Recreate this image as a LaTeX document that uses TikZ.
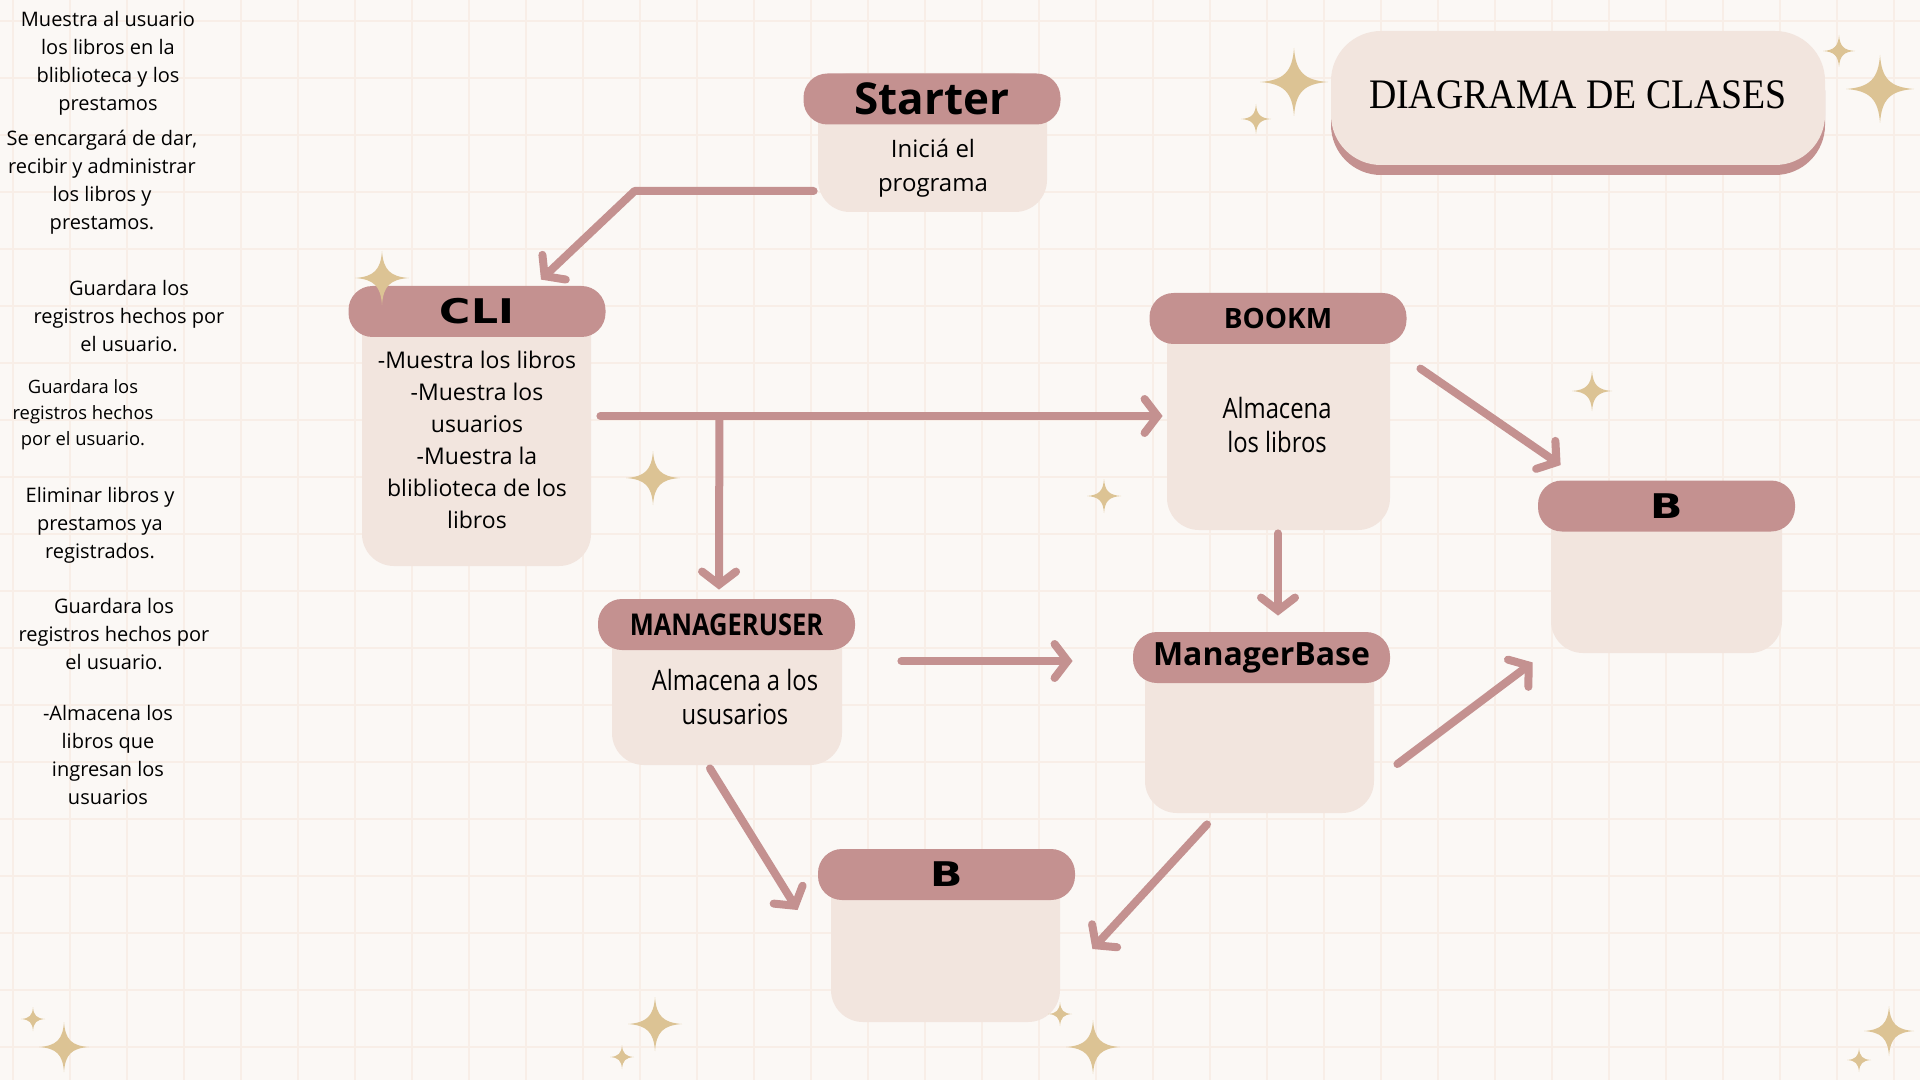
\documentclass[tikz,border=0pt]{standalone}
\usepackage{fontspec}
\setmainfont{Open Sans}
\newfontfamily\condfont{Open Sans}[FakeStretch=0.85]
\newfontfamily\widefont{DejaVu Sans}[FakeStretch=1.25]
\newfontfamily\titlefont{Liberation Serif}[FakeStretch=0.9]
\usetikzlibrary{arrows.meta,shadows}
\definecolor{rosa}{HTML}{C49190}
\definecolor{crema}{HTML}{F2E5DE}
\definecolor{papel}{HTML}{FBF8F5}
\definecolor{cuadro}{HTML}{F8EEE7}
\definecolor{oro}{HTML}{DCC394}
\tikzset{
  cabeza/.style={fill=rosa, rounded corners=12pt, minimum width=128.5pt, minimum height=25.5pt, inner sep=0pt},
  cuerpo/.style={fill=crema, rounded corners=16pt, inner sep=0pt},
  texto/.style={align=center, inner sep=0pt},
  nota/.style={align=center, inner sep=0pt, font=\fontsize{10}{14}\selectfont},
  flecha/.style={draw=rosa, line width=4pt, line cap=round, line join=round,
    -{Straight Barb[length=6.5pt, width=17pt, line cap=round]}},
  destello/.pic={\fill[oro] (0,-1) .. controls (0.05,-0.3) and (0.3,-0.05) .. (1,0)
    .. controls (0.3,0.05) and (0.05,0.3) .. (0,1)
    .. controls (-0.05,0.3) and (-0.3,0.05) .. (-1,0)
    .. controls (-0.3,-0.05) and (-0.05,-0.3) .. cycle;}
}
\begin{document}
\begin{tikzpicture}[x=0.5pt, y=-0.5pt]
% fondo cuadriculado
\fill[papel] (0,0) rectangle (1920,1080);
\useasboundingbox (0,0) rectangle (1920,1080);
\foreach \i in {0,...,33}
  \draw[cuadro, line width=1.2pt] (13+57*\i,0) -- (13+57*\i,1080);
\foreach \j in {0,...,18}
  \draw[cuadro, line width=1.2pt] (0,21+57*\j) -- (1920,21+57*\j);

% titulo
\node[fill=crema, rounded corners=25pt, minimum width=247pt, minimum height=67pt,
  general shadow={fill=rosa, shadow yshift=-5pt}, font=\titlefont\fontsize{21}{24}\selectfont]
  (titulo) at (1578,98) {\raisebox{3pt}{DIAGRAMA DE CLASES}};

% notas de la izquierda
\node[nota] (nota1) at (108,63) {Muestra al usuario\\los libros en la\\bliblioteca y los\\prestamos};
\node[nota] (nota2) at (102,182) {Se encargará de dar,\\recibir y administrar\\los libros y\\prestamos.};
\node[nota] (nota3) at (129,316) {Guardara los\\registros hechos por\\el usuario.};
\node[nota, font=\fontsize{9.2}{13}\selectfont] (nota4) at (83,415) {Guardara los\\registros hechos\\por el usuario.};
\node[nota] (nota5) at (100,525) {Eliminar libros y\\prestamos ya\\registrados.};
\node[nota] (nota6) at (114,634) {Guardara los\\registros hechos por\\el usuario.};
\node[nota] (nota7) at (108,755) {-Almacena los\\libros que\\ingresan los\\usuarios};

% clases
\node[cuerpo, minimum width=114.5pt, minimum height=69.5pt] (starter) at (932.5,142.5) {};
\node[cabeza, font=\bfseries\fontsize{22}{26}\selectfont] (starter-h) at (932,99) {Starter};
\node[texto, font=\fontsize{12}{17}\selectfont] (starter-t) at (933,168) {Iniciá el\\programa};

\node[cuerpo, minimum width=114.5pt, minimum height=139pt] (cli) at (476.5,427) {};
\node[cabeza, font=\widefont\bfseries\fontsize{17}{20}\selectfont] (cli-h) at (477,311.5) {CLI};
\node[texto, font=\fontsize{11.5}{16}\selectfont] (cli-t) at (477,440)
  {-Muestra los libros\\-Muestra los\\usuarios\\-Muestra la\\bliblioteca de los\\libros};

\node[cuerpo, minimum width=111.5pt, minimum height=118.5pt] (bookm) at (1278.5,411.5) {};
\node[cabeza, font=\bfseries\fontsize{14}{17}\selectfont] (bookm-h) at (1278,318.5) {BOOKM};
\node[texto, font=\condfont\fontsize{14}{17}\selectfont] (bookm-t) at (1277,425) {Almacena\\los libros};

\node[cuerpo, minimum width=115.5pt, minimum height=85.5pt] (b1) at (1666.5,567.5) {};
\node[cabeza, font=\widefont\bfseries\fontsize{17}{20}\selectfont] (b1-h) at (1666.5,506) {B};

\node[cuerpo, minimum width=115pt, minimum height=83pt] (mu) at (727,682) {};
\node[cabeza, font=\condfont\bfseries\fontsize{15}{18}\selectfont] (mu-h) at (726.5,624.5) {MANAGERUSER};
\node[texto, font=\condfont\fontsize{14}{17}\selectfont] (mu-t) at (735,697) {Almacena a los\\ususarios};

\node[cuerpo, minimum width=114.5pt, minimum height=90.5pt] (mb) at (1259.5,722.5) {};
\node[cabeza, font=\bfseries\fontsize{16}{19}\selectfont] (mb-h) at (1261.5,657.5) {ManagerBase};

\node[cuerpo, minimum width=114.5pt, minimum height=85.5pt] (b2) at (945.5,936.5) {};
\node[cabeza, font=\widefont\bfseries\fontsize{17}{20}\selectfont] (b2-h) at (946.5,874.5) {B};

% relaciones
\draw[flecha] ([shift={(-4,48.5)}]starter.west) -- ++(-179,0) -- ([shift={(64,-6)}]cli-h.north);
\draw[flecha] ([shift={(9,-11)}]cli.east) -- ([shift={(-4,4.5)}]bookm.west);
\draw[flecha] ([shift={(128,-11)}]cli.east) -- ([shift={(-7.5,-9)}]mu-h.north);
\draw[flecha] ([shift={(30,76)}]bookm.north east) -- ([shift={(23,-15)}]b1-h.north west);
\draw[flecha] ([shift={(-0.5,3)}]bookm.south) -- ([shift={(16.5,-16)}]mb-h.north);
\draw[flecha] ([shift={(59,-21)}]mu.east) -- ([shift={(-60,3.5)}]mb-h.west);
\draw[flecha] ([shift={(23,41.5)}]mb.east) -- ([shift={(-18,9)}]b1.south west);
\draw[flecha] ([shift={(-17,3)}]mu.south) -- ([shift={(-20,35.5)}]b2-h.west);
\draw[flecha] ([shift={(-52.5,11)}]mb.south) -- ([shift={(32,12.5)}]b2.east);

% destellos
\foreach \x/\y/\r in {1294/82/34, 1256/119/15, 1839/51/16, 1880/89/34, 382/278/27,
    653/478/27, 1104/496/17, 1592/391/20, 33/1019/12, 64/1047/25, 655/1024/27,
    622/1057/12, 1060/1014/12, 1093/1047/27, 1889/1031/25, 1859/1060/12}
  \pic[scale=\r] at (\x,\y) {destello};
\end{tikzpicture}
\end{document}
